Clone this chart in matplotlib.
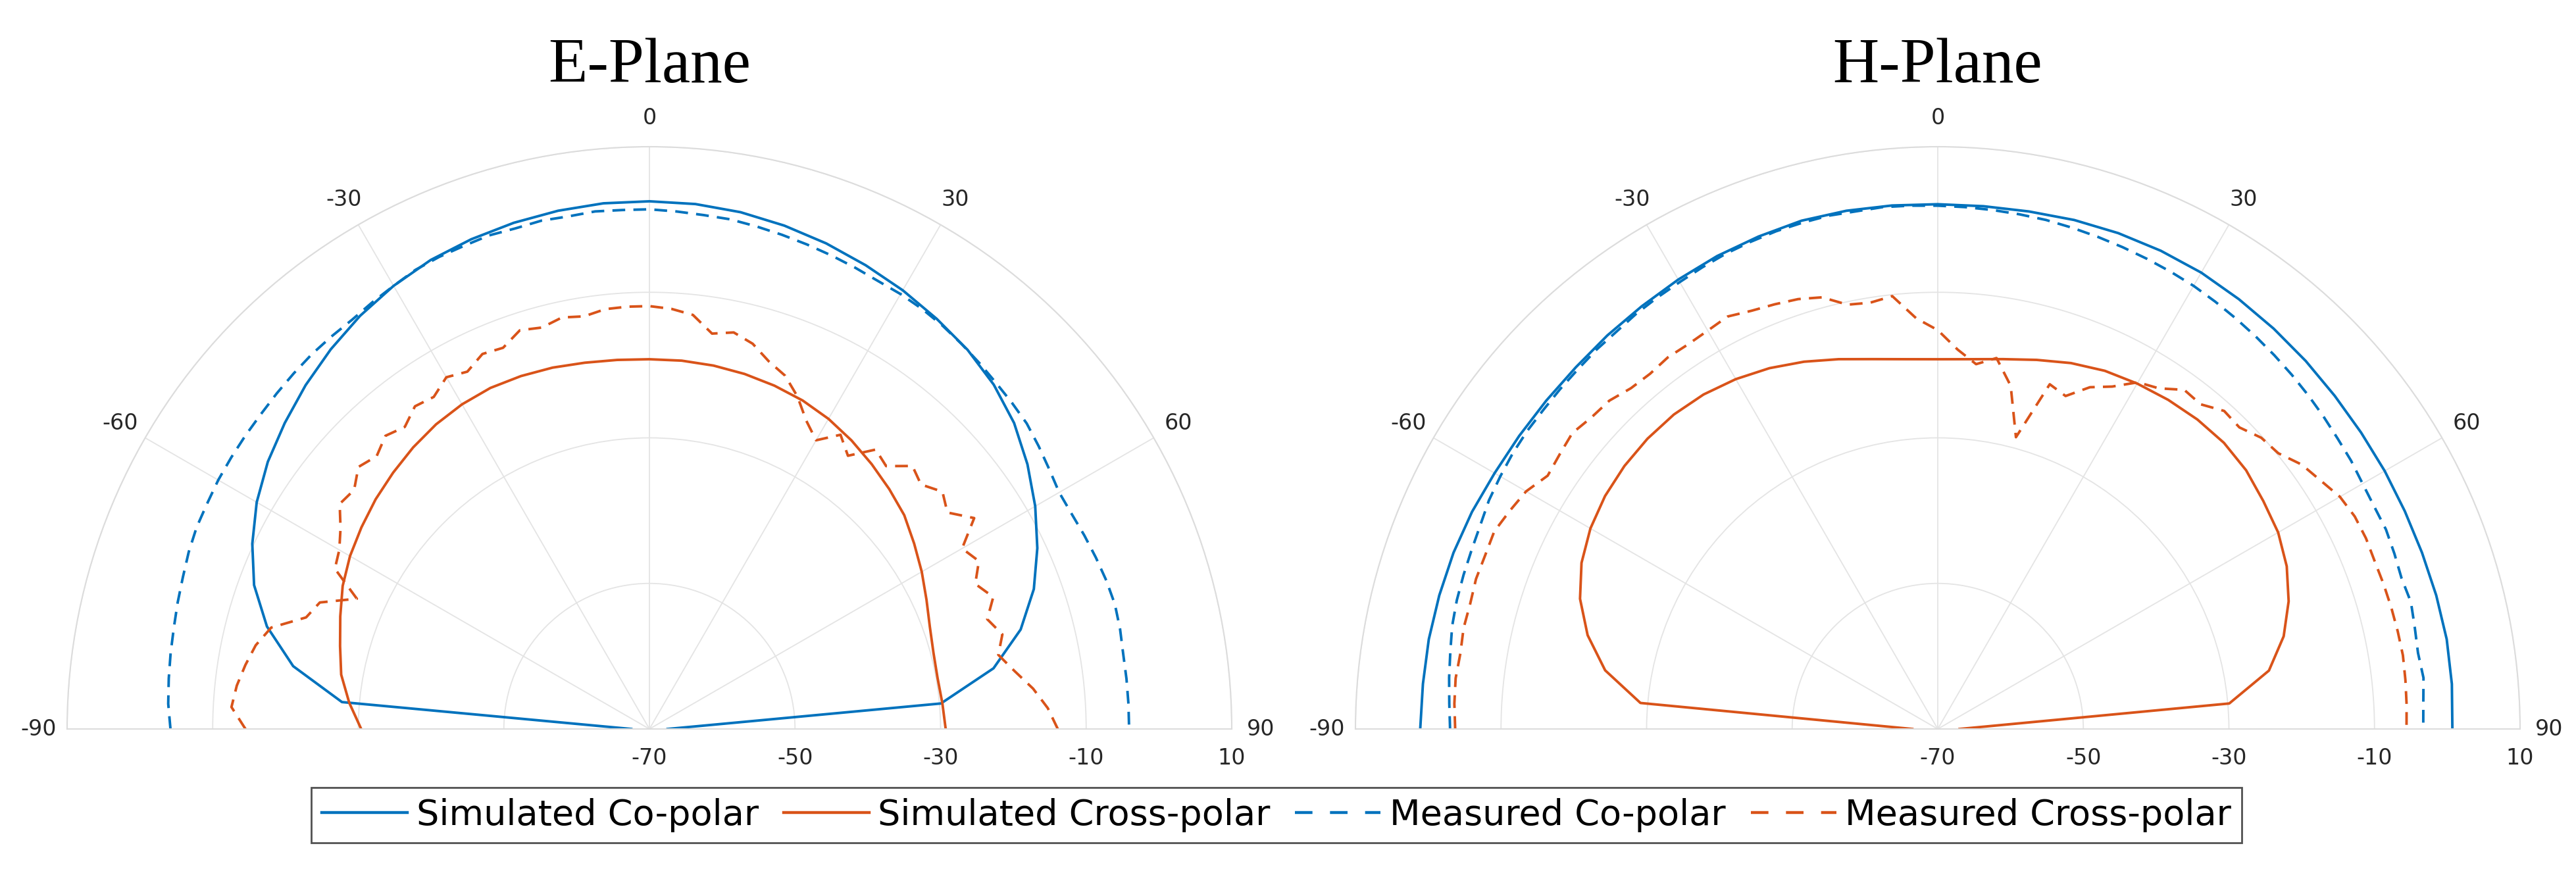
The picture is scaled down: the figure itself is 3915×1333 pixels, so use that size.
import numpy as np
import matplotlib.pyplot as plt
import matplotlib as mpl
from matplotlib.lines import Line2D

mpl.rcParams["font.family"] = "DejaVu Sans"

# angles (deg): simulated every 5 deg, measured every 3 deg
theta_sim = np.arange(-90, 91, 5)
theta_meas = np.arange(-90, 91, 3)

# E-plane
e_sim_co = [-67.5, -27.6, -20.3, -15.6, -12.2, -9.8, -7.7, -6.0, -4.6, -3.2, -1.9, -0.7, 0.3, 1.1, 1.6, 2.0, 2.3, 2.5,
            2.5, 2.4, 2.1, 1.6, 1.0, 0.3, -0.4, -1.2, -2.0, -3.1, -4.6, -6.6, -8.8, -11.2, -13.8, -17.2, -22.0, -29.8, -67.5]
e_sim_x = [-30.4, -28.6, -27.0, -26.0, -24.8, -23.5, -22.5, -21.7, -20.9, -20.2, -19.5, -18.9, -18.5, -18.3, -18.4, -18.6, -18.9, -19.1,
           -19.2, -19.2, -19.3, -19.5, -19.8, -20.2, -20.8, -21.6, -22.5, -23.4, -24.3, -25.6, -26.8, -28.0, -29.0, -29.6, -29.8, -29.6, -29.3]
e_meas_co = [-4.2, -3.8, -3.6, -3.4, -3.2, -2.9, -2.6, -2.2, -1.9, -1.8, -1.6, -1.5, -1.4, -1.3, -1.1, -0.9, -0.7, -0.6, -0.5, -0.1,
             0.3, 0.8, 1.0, 1.1, 1.3, 1.2, 1.4, 1.3, 1.5, 1.4, 1.4, 1.2, 1.0, 0.9, 0.6, 0.3, 0.0, -0.3, -0.6, -0.9,
             -1.0, -1.2, -1.5, -1.9, -2.3, -2.7, -3.0, -3.3, -3.9, -4.5, -5.0, -4.9, -4.6, -4.3, -4.0, -3.8, -3.9, -4.1, -4.1, -4.1, -4.1]
e_meas_x = [-14.5, -12.5, -13.0, -13.8, -14.7, -16.2, -20.4, -21.5, -26.0, -21.5, -20.8, -19.4, -17.4, -17.8, -16.2, -17.0, -15.8, -16.6, -15.2, -15.6,
            -14.2, -14.9, -13.6, -13.9, -12.4, -12.9, -12.2, -12.6, -12.0, -11.9, -11.9, -12.2, -12.8, -15.0, -14.3, -15.2, -16.9, -18.0, -20.0, -22.5,
            -24.2, -21.8, -23.6, -20.6, -21.4, -18.9, -19.8, -18.2, -19.4, -16.8, -20.4, -19.2, -21.0, -19.4, -21.2, -19.8, -21.0, -19.2, -17.0, -15.2, -13.9]

# H-plane
h_sim_co = [1.1, 1.0, 1.0, 0.9, 0.8, 0.6, 0.3, 0.2, 0.2, 0.3, 0.6, 0.9, 1.3, 1.7, 2.0, 2.3, 2.3, 2.2,
            2.1, 2.1, 2.2, 2.4, 2.5, 2.5, 2.4, 2.1, 1.8, 1.5, 1.2, 1.0, 0.9, 0.8, 0.8, 0.9, 1.0, 0.9, 0.7]
h_sim_x = [-66.5, -29.0, -23.6, -20.2, -17.7, -16.0, -14.9, -14.2, -13.8, -13.6, -13.6, -13.9, -14.5, -15.3, -16.3, -17.4, -18.4, -19.0,
           -19.2, -19.0, -18.4, -17.5, -16.5, -15.7, -15.2, -14.8, -14.5, -14.4, -14.7, -15.4, -16.0, -17.1, -18.7, -20.8, -23.8, -29.8, -67.0]
h_meas_co = [-3.0, -2.8, -2.5, -2.2, -1.8, -1.6, -1.5, -1.4, -1.2, -0.8, -0.6, -0.4, -0.3, -0.3, -0.2, -0.1, 0.1, 0.2, 0.5, 0.7,
             0.9, 1.2, 1.5, 1.7, 1.9, 2.0, 2.1, 2.0, 2.1, 2.0, 1.9, 1.8, 1.7, 1.6, 1.5, 1.3, 1.1, 0.9, 0.7, 0.5,
             0.3, 0.0, -0.3, -0.6, -0.9, -1.2, -1.5, -1.8, -2.1, -2.3, -2.6, -2.7, -2.6, -2.8, -3.0, -2.7, -3.0, -3.2, -2.9, -3.2, -3.3]
h_meas_x = [-3.7, -3.5, -3.4, -3.6, -3.4, -3.5, -3.3, -3.4, -3.3, -4.0, -4.7, -6.1, -5.8, -5.4, -6.0, -6.2, -7.0, -7.2, -6.9, -7.0,
            -6.8, -6.4, -7.1, -7.5, -7.9, -8.6, -10.4, -10.7, -10.2, -13.5, -15.2, -17.8, -19.6, -18.4, -21.8, -28.5, -20.2, -21.0, -18.6, -17.2,
            -15.0, -14.2, -12.4, -12.6, -11.2, -11.4, -10.2, -9.8, -8.2, -7.3, -6.2, -5.7, -5.6, -5.7, -5.6, -5.5, -5.4, -5.3, -5.4, -5.5, -5.6]

theta_ticks = [-90, -60, -30, 0, 30, 60, 90]
r_ticks = [-70, -50, -30, -10, 10]
labels = ['Simulated Co-polar', 'Simulated Cross-polar', 'Measured Co-polar', 'Measured Cross-polar']

blue = '#0072BD'
orange = '#D95319'
gridc = '#e4e4e4'
txtc = '#262626'
dash = (0, (5, 3.2))

W, H = 3916, 1333
R = 885
cy = 1108

fig = plt.figure(figsize=(W / 100, H / 100), dpi=100)


def polar_panel(cx, title, sim_co, sim_x, meas_co, meas_x):
    # square box; the half disc is centred inside it vertically
    base = H - cy
    bottom = base + R / 2 - R
    ax = fig.add_axes([(cx - R) / W, bottom / H, 2 * R / W, 2 * R / H], projection='polar')
    ax.set_theta_zero_location('N')
    ax.set_theta_direction(-1)
    ax.set_thetamin(-90)
    ax.set_thetamax(90)
    ax.set_ylim(-70, 10)
    ax.set_xticks(np.deg2rad(theta_ticks))
    ax.set_xticklabels([str(t) for t in theta_ticks])
    ax.set_yticks(r_ticks)
    ax.set_yticklabels([])
    ax.grid(True, color=gridc, lw=1.3)
    ax.tick_params(axis='x', pad=21, labelsize=24, labelcolor=txtc)
    for s in ax.spines.values():
        s.set_color('#dcdcdc')
        s.set_linewidth(1.5)

    ax.plot(np.deg2rad(theta_sim), sim_co, color=blue, lw=2.8)
    ax.plot(np.deg2rad(theta_sim), sim_x, color=orange, lw=2.8)
    ax.plot(np.deg2rad(theta_meas), meas_co, color=blue, lw=2.8, ls=dash)
    ax.plot(np.deg2rad(theta_meas), meas_x, color=orange, lw=2.8, ls=dash)

    # radial labels below the baseline
    for v in r_ticks:
        ax.annotate(str(v), xy=(np.deg2rad(90), v), xytext=(0, -32), textcoords='offset points',
                    ha='center', va='center', fontsize=24, color=txtc, annotation_clip=False)

    fig.text(cx / W, 1 - 102 / H, title, ha='center', va='center', fontsize=70,
             family='Liberation Serif', color='black')
    return ax


polar_panel(987, 'E-Plane', e_sim_co, e_sim_x, e_meas_co, e_meas_x)
polar_panel(2945, 'H-Plane', h_sim_co, h_sim_x, h_meas_co, h_meas_x)

handles = [Line2D([], [], color=blue, lw=3.2),
           Line2D([], [], color=orange, lw=3.2),
           Line2D([], [], color=blue, lw=3.2, ls=(0, (6, 6))),
           Line2D([], [], color=orange, lw=3.2, ls=(0, (6, 6)))]
leg = fig.legend(handles, labels, loc='center', bbox_to_anchor=(1940 / W, 1 - 1239 / H), ncol=4,
                 fontsize=39, frameon=True, fancybox=False, edgecolor=txtc, handlelength=2.4,
                 handletextpad=0.25, columnspacing=0.7, borderpad=0.3, borderaxespad=0)
leg.get_frame().set_linewidth(2)

fig.savefig('out.png', dpi=100, facecolor='white')
